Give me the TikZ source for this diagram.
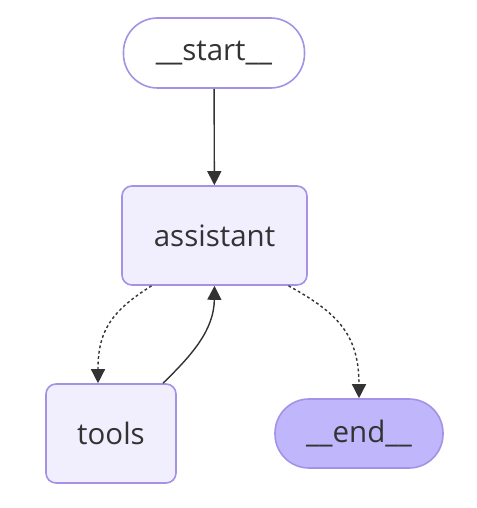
\documentclass[tikz,border=0pt]{standalone}
\usepackage{fontspec}
\setmainfont{Open Sans}
\usetikzlibrary{arrows.meta,positioning,calc}
\definecolor{Lav}{HTML}{F1EFFE}
\definecolor{LavDark}{HTML}{A592E6}
\definecolor{EndFill}{HTML}{BFB6FB}
\definecolor{Ink}{HTML}{333333}

\begin{document}
\begin{tikzpicture}[x=1pt,y=-1pt,
    boxstyle/.style={draw=LavDark,fill=Lav,line width=1.6pt,rounded corners=10pt,
      minimum height=99pt,inner sep=0pt,text=Ink,font=\fontsize{29.5}{31}\selectfont},
    pillstyle/.style={boxstyle,minimum height=69pt,rounded corners=34pt},
    flowedge/.style={draw=Ink,line width=1.4pt,-{Triangle[length=14pt,width=14pt]}},
    dotedge/.style={flowedge,dash pattern=on 2.8pt off 2.6pt}]
    \useasboundingbox (0,0) rectangle (476,508);
    \node[pillstyle,fill=white,minimum width=181pt,minimum height=70pt] (start) at (214,53) {\_\_start\_\_};
    \node[boxstyle,minimum width=185pt] (assistant) at (214.5,235.5) {assistant};
    \node[boxstyle,minimum width=130pt] (tools) at (111,433.5) {tools};
    \node[pillstyle,fill=EndFill,minimum width=168pt] (endnode) at (359,433.5) {\_\_end\_\_};
    \draw[flowedge] (start) -- (assistant);
    \draw[dotedge] ([xshift=-63pt]assistant.south) .. controls (110,312) and (98,332) .. (tools.north -| 98,0);
    \draw[flowedge] ([xshift=52pt]tools.north) .. controls (192,355) and (214,330) .. (assistant.south);
    \draw[dotedge] ([xshift=74pt]assistant.south) .. controls (338,313) and (359,335) .. (endnode.north);
  \end{tikzpicture}
\end{document}
